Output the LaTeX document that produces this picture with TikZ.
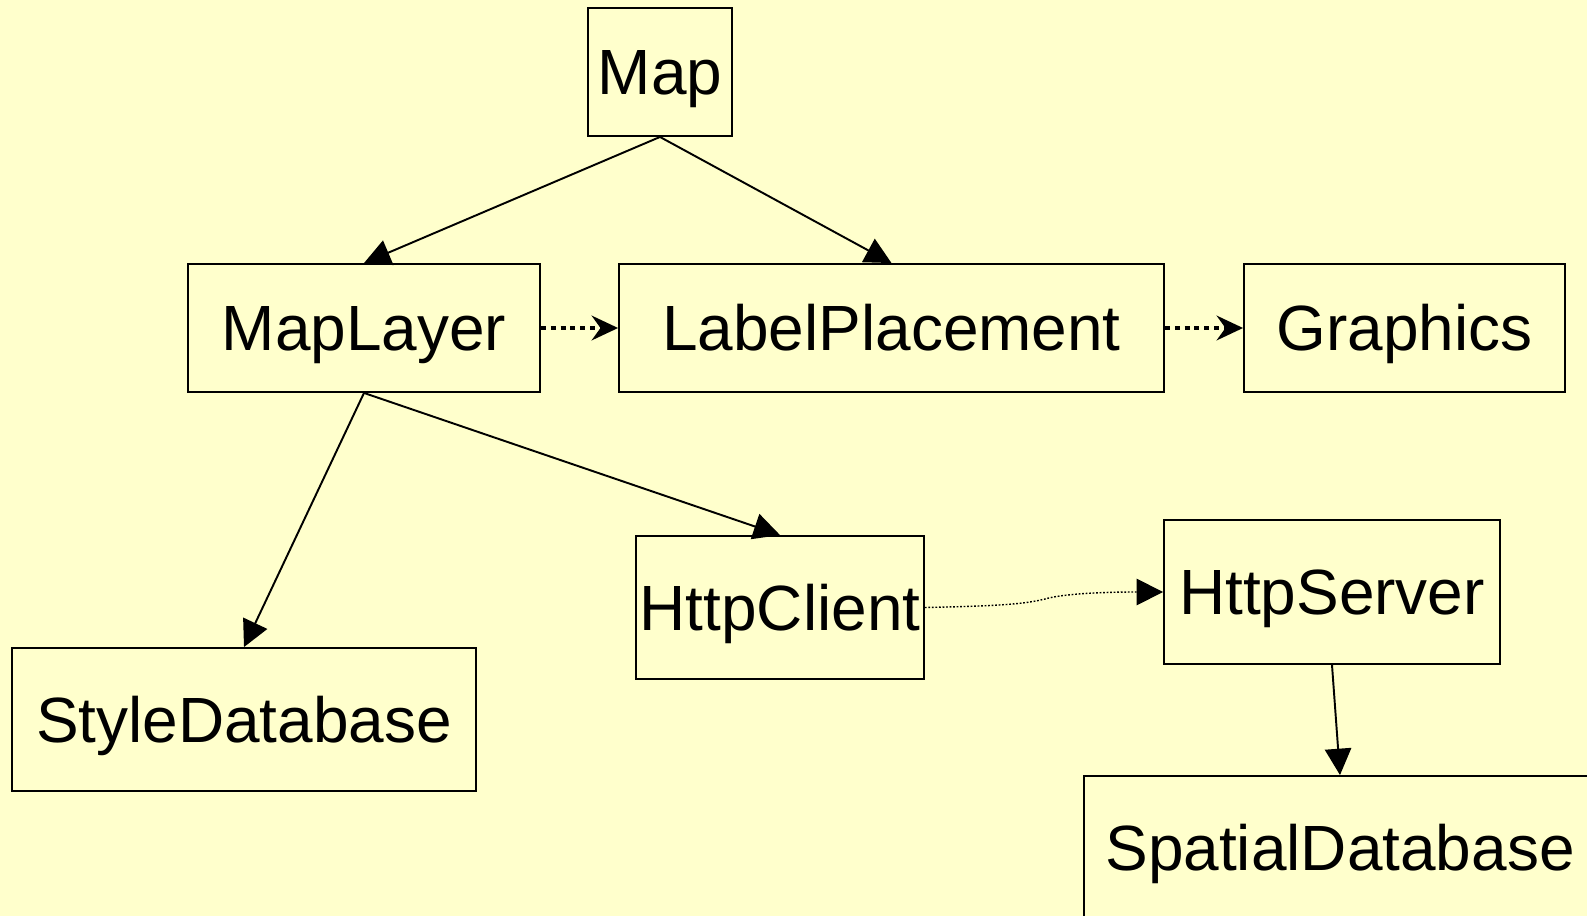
\documentclass[tikz,border=0pt]{standalone}
\usepackage{fontspec}
\setmainfont{Liberation Sans}
\usetikzlibrary{arrows.meta}
\definecolor{bg}{HTML}{FFFFCC}
\begin{document}
\begin{tikzpicture}[x=0.02cm,y=-0.02cm,
  box/.style={draw,line width=1.1pt,inner sep=0pt,text height=26.1pt,text depth=0pt,
    font=\fontsize{36.4}{40}\selectfont},
  solidarr/.style={line width=1.1pt,-{Triangle[length=15pt,width=15pt]}},
  dotarr/.style={line width=2.3pt,dash pattern=on 2.8pt off 2.8pt,-{Stealth[length=15pt,width=14pt,inset=5pt]}},
  thindot/.style={line width=0.8pt,dash pattern=on 1pt off 1pt,-{Triangle[length=15pt,width=15pt]}}]
\fill[bg] (0,0) rectangle (1587,916);
\clip (0,0) rectangle (1587,916);
\node[box,minimum width=2.88cm,minimum height=2.56cm] (map) at (660,72) {Map};
\node[box,minimum width=7.04cm,minimum height=2.56cm] (maplayer) at (364,328) {MapLayer};
\node[box,minimum width=10.9cm,minimum height=2.56cm] (labelplacement) at (891.5,328) {LabelPlacement};
\node[box,minimum width=6.42cm,minimum height=2.56cm] (graphics) at (1404.5,328) {Graphics};
\node[box,minimum width=9.28cm,minimum height=2.86cm] (styledb) at (244,719.5) {StyleDatabase};
\node[box,minimum width=5.76cm,minimum height=2.86cm] (httpclient) at (780,607.5) {HttpClient};
\node[box,minimum width=6.72cm,minimum height=2.88cm] (httpserver) at (1332,592) {HttpServer};
\node[box,minimum width=10.24cm,minimum height=2.88cm] (spatialdb) at (1340,848) {SpatialDatabase};
\draw[solidarr] (map.south) -- (maplayer.north);
\draw[solidarr] (map.south) -- (labelplacement.north);
\draw[solidarr] (maplayer.south) -- (styledb.north);
\draw[solidarr] (maplayer.south) -- (httpclient.north);
\draw[solidarr] (httpserver.south) -- (spatialdb.north);
\draw[dotarr] (maplayer.east) -- (labelplacement.west);
\draw[dotarr] (labelplacement.east) -- (graphics.west);
\draw[thindot] (httpclient.east) .. controls (1000,606) and (1025,604) .. (1045,599)
  .. controls (1062,594) and (1100,592) .. (httpserver.west);
\end{tikzpicture}
\end{document}
